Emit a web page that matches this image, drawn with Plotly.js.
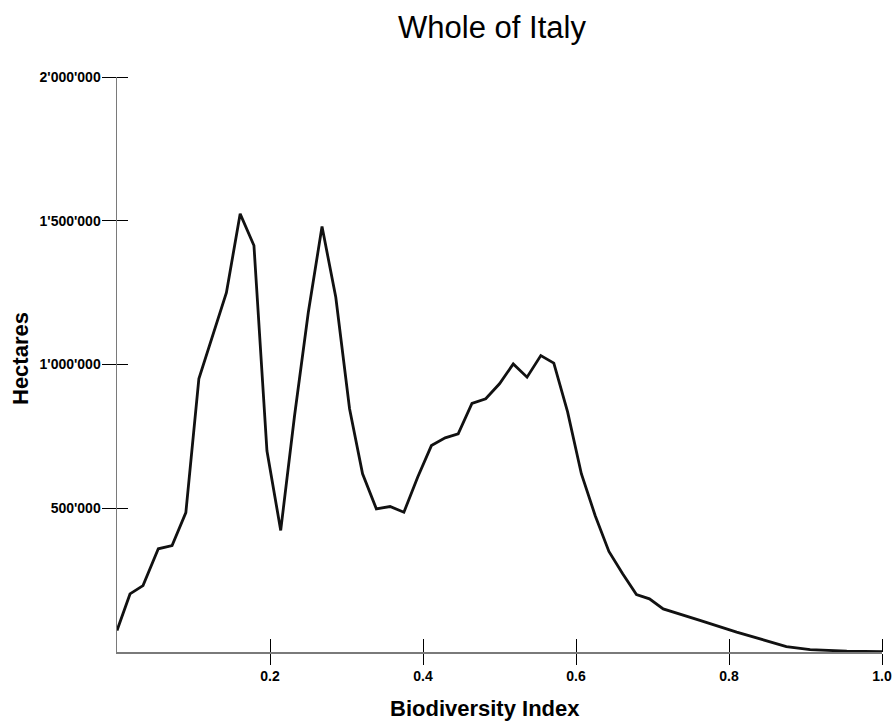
<!DOCTYPE html>
<html>
<head>
<meta charset="utf-8">
<script src="https://cdn.plot.ly/plotly-3.0.1.min.js"></script>
<style>html,body{margin:0;padding:0;background:#fff;}#chart{width:893px;height:722px;}</style>
</head>
<body>
<div id="chart"></div>
<script>
// Biodiversity index (x) and area in hectares (y)
const biodiversityIndex = [0, 0.017, 0.034, 0.054, 0.072, 0.09, 0.107, 0.125, 0.143, 0.161, 0.179, 0.196, 0.214, 0.232, 0.25, 0.268, 0.286, 0.304, 0.321, 0.339, 0.357, 0.375, 0.393, 0.411, 0.429, 0.446, 0.464, 0.482, 0.5, 0.518, 0.536, 0.554, 0.571, 0.589, 0.607, 0.625, 0.643, 0.661, 0.679, 0.696, 0.714, 0.762, 0.81, 0.875, 0.906, 0.954, 1.0];
const hectares = [75000, 202000, 231000, 359000, 370000, 485000, 950000, 1100000, 1250000, 1524000, 1414000, 700000, 423000, 820000, 1180000, 1480000, 1234000, 846000, 620000, 498000, 506000, 486000, 608000, 718000, 745000, 759000, 865000, 881000, 933000, 1002000, 956000, 1031000, 1005000, 835000, 620000, 475000, 350000, 272000, 200000, 185000, 150000, 110000, 69000, 19000, 8000, 3000, 1000];

const xTickVals = [0.2, 0.4, 0.6, 0.8, 1.0];
const xTickText = ['<b>0.2</b>', '<b>0.4</b>', '<b>0.6</b>', '<b>0.8</b>', '<b>1.0</b>'];
const yTickVals = [500000, 1000000, 1500000, 2000000];
const yTickText = ["<b>500'000</b>", "<b>1'000'000</b>", "<b>1'500'000</b>", "<b>2'000'000</b>"];

const FONT = 'Liberation Sans, Arial, sans-serif';

const traces = [
  {
    type: 'scatter', mode: 'lines',
    x: biodiversityIndex, y: hectares,
    line: {color: '#111', width: 2.8},
    hoverinfo: 'x+y', showlegend: false
  }
];

const axisCommon = {
  showgrid: false, zeroline: false, tickmode: 'array',
  tickcolor: '#000', tickwidth: 1,
  tickfont: {family: FONT, size: 14, color: '#000'},
  showline: true, linecolor: '#7a7a7a', linewidth: 1.5
};

const layout = {
  width: 893, height: 722,
  margin: {l: 117, r: 11, t: 77, b: 70},
  paper_bgcolor: '#fff', plot_bgcolor: '#fff',
  title: {
    text: 'Whole of Italy',
    font: {family: FONT, size: 31, color: '#000'},
    x: 492 / 893, xanchor: 'center', xref: 'container',
    y: 1 - 27 / 722, yanchor: 'middle', yref: 'container'
  },
  xaxis: Object.assign({}, axisCommon, {
    range: [0, 1], tickvals: xTickVals, ticktext: xTickText,
    ticks: 'outside', ticklen: 11,
    minor: {tickmode: 'array', tickvals: xTickVals, ticks: 'inside', ticklen: 13, tickcolor: '#000', tickwidth: 1, showgrid: false}
  }),
  yaxis: Object.assign({}, axisCommon, {
    range: [0, 2000000], tickvals: yTickVals, ticktext: yTickText,
    ticks: 'outside', ticklen: 14, ticklabelstandoff: -2,
    minor: {tickmode: 'array', tickvals: yTickVals, ticks: 'inside', ticklen: 11, tickcolor: '#000', tickwidth: 1, showgrid: false}
  }),
  annotations: [
    {
      text: '<b>Biodiversity Index</b>', showarrow: false,
      xref: 'paper', yref: 'paper', x: (485 - 117) / 765, y: (652 - 708) / 575,
      xanchor: 'center', yanchor: 'middle',
      font: {family: FONT, size: 22, color: '#000'}
    },
    {
      text: '<b>Hectares</b>', showarrow: false, textangle: -90,
      xref: 'paper', yref: 'paper', x: (20 - 117) / 765, y: (652 - 359) / 575,
      xanchor: 'center', yanchor: 'middle',
      font: {family: FONT, size: 22, color: '#000'}
    }
  ]
};

Plotly.newPlot('chart', traces, layout, {displayModeBar: false, staticPlot: true});
</script>
</body>
</html>
